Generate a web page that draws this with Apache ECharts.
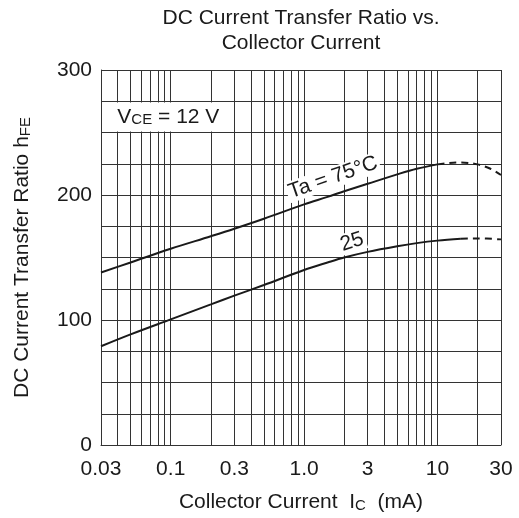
<!DOCTYPE html>
<html><head><meta charset="utf-8">
<script src="https://cdn.jsdelivr.net/npm/echarts@6/dist/echarts.min.js"></script>
<style>html,body{margin:0;padding:0;background:#fff}#c{width:519px;height:518px}</style>
</head><body><div id="c"></div>
<script>
// ---- data ----
const xGridValues = [0.03,0.04,0.05,0.06,0.07,0.08,0.09,0.1,0.2,0.3,0.4,0.5,0.6,0.7,0.8,0.9,1,2,3,4,5,6,7,8,9,10,20,30];
const xLabelValues = [0.03,0.1,0.3,1,3,10,30];
const xLabelTexts = ['0.03','0.1','0.3','1.0','3','10','30'];
const yLabelValues = [0,100,200,300];

const current75Solid = [0.03,0.05,0.1,0.2,0.3,0.5,1,1.5,2,3,5,7,10];
const hfe75Solid     = [138,146,157,167,173,181,192.5,198.5,203,209,216.5,221,224.5];
const current75Dashed = [10,12,15,20,25,30];
const hfe75Dashed     = [224.5,225.5,226,224.5,221,216];

const current25Solid = [0.03,0.05,0.1,0.2,0.3,0.5,1,1.5,2,3,5,7,10,15];
const hfe25Solid     = [79,88.5,100.5,112.5,119.5,128,140,146,150,154.5,159,161.5,163.5,165];
const current25Dashed = [15,20,30];
const hfe25Dashed     = [165,165.3,164.5];

const FONT = '"Liberation Sans", Arial, Helvetica, sans-serif';
const INK = '#1a1a1a';
const GRID = '#333';
const FS = 21;

function pairs(xs, ys){ return xs.map((x,i)=>[x, ys[i]]); }

const chart = echarts.init(document.getElementById('c'), null, {renderer:'canvas'});

const lineBase = {
  type:'line', symbol:'none', smooth:0.35, silent:true,
  lineStyle:{color:INK, width:2}, itemStyle:{color:INK}
};
const subRich = {
  m:{fontSize:FS, fontFamily:FONT, color:INK, lineHeight:FS},
  s:{fontSize:15, fontFamily:FONT, color:INK, lineHeight:8, verticalAlign:'bottom'}
};

const option = {
  backgroundColor:'#fff',
  animation:false,
  textStyle:{fontFamily:FONT},
  grid:{left:101, right:18, top:70, bottom:71, containLabel:false},
  graphic:[
    {type:'text', x:301, y:18, style:{text:'DC Current Transfer Ratio vs.', font:FS+'px '+FONT, fill:INK, textAlign:'center', textVerticalAlign:'middle'}},
    {type:'text', x:301, y:43, style:{text:'Collector Current', font:FS+'px '+FONT, fill:INK, textAlign:'center', textVerticalAlign:'middle'}}
  ],
  xAxis:{
    type:'log', logBase:10, min:0.03, max:30,
    name:'{m|Collector Current  I}{s|C}{m|  (mA)}',
    nameLocation:'middle', nameGap:47,
    nameTextStyle:{rich:subRich},
    axisLine:{show:true, lineStyle:{color:GRID, width:1}},
    axisTick:{show:false, customValues:xGridValues},
    splitLine:{show:true, lineStyle:{color:GRID, width:1}},
    minorSplitLine:{show:false},
    axisLabel:{
      customValues:xLabelValues, margin:14, fontSize:FS, fontFamily:FONT, color:INK,
      formatter:function(v){
        for (let i=0;i<xLabelValues.length;i++){ if (Math.abs(xLabelValues[i]-v)/xLabelValues[i] < 1e-6) return xLabelTexts[i]; }
        return '';
      }
    }
  },
  yAxis:{
    type:'value', min:0, max:300, interval:25,
    name:'{m|DC Current Transfer Ratio h}{s|FE}',
    nameLocation:'middle', nameGap:68, nameRotate:90,
    nameTextStyle:{rich:subRich},
    axisLine:{show:true, lineStyle:{color:GRID, width:1}},
    axisTick:{show:false},
    splitLine:{show:true, lineStyle:{color:GRID, width:1}},
    axisLabel:{customValues:yLabelValues, margin:9, fontSize:FS, fontFamily:FONT, color:INK}
  },
  series:[
    Object.assign({}, lineBase, {
      name:'75', data:pairs(current75Solid, hfe75Solid),
      markPoint:{silent:true, symbol:'circle', symbolSize:0, data:[
        {coord:[1.65, 214], label:{show:true, position:'inside', formatter:'Ta = 75°C', rotate:19,
          fontSize:FS, fontFamily:FONT, color:INK, backgroundColor:'#fff', padding:[0,2]}},
        {coord:[0.096, 262.5], label:{show:true, position:'inside',
          formatter:'{m|V}{s|CE}{m| = 12 V}', backgroundColor:'#fff', padding:[4,5],
          rich:subRich}}
      ]}
    }),
    Object.assign({}, lineBase, {
      name:'75d', data:pairs(current75Dashed, hfe75Dashed),
      lineStyle:{color:INK, width:2, type:[7,5]}
    }),
    Object.assign({}, lineBase, {
      name:'25', data:pairs(current25Solid, hfe25Solid),
      markPoint:{silent:true, symbol:'circle', symbolSize:0, data:[
        {coord:[2.29, 162.5], label:{show:true, position:'inside', formatter:'25', rotate:18,
          fontSize:FS, fontFamily:FONT, color:INK, backgroundColor:'#fff', padding:[0,2]}}
      ]}
    }),
    Object.assign({}, lineBase, {
      name:'25d', data:pairs(current25Dashed, hfe25Dashed),
      lineStyle:{color:INK, width:2, type:[7,5]}
    })
  ]
};
chart.setOption(option);
</script></body></html>
